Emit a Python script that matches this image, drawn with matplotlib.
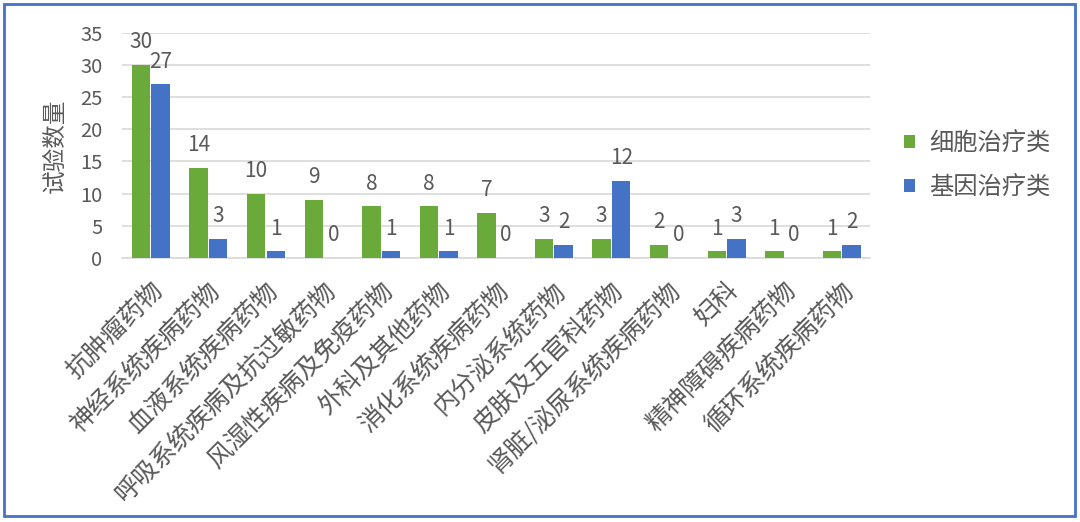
import numpy as np
import matplotlib
matplotlib.use("Agg")
import matplotlib.pyplot as plt
from matplotlib.patches import Rectangle

plt.rcParams['font.family'] = ['Noto Sans CJK SC', 'DejaVu Sans']

categories = ["抗肿瘤药物", "神经系统疾病药物", "血液系统疾病药物", "呼吸系统疾病及抗过敏药物",
              "风湿性疾病及免疫药物", "外科及其他药物", "消化系统疾病药物", "内分泌系统药物",
              "皮肤及五官科药物", "肾脏/泌尿系统疾病药物", "妇科", "精神障碍疾病药物", "循环系统疾病药物"]
cell_therapy = [30, 14, 10, 9, 8, 8, 7, 3, 3, 2, 1, 1, 1]
gene_therapy = [27, 3, 1, 0, 1, 1, 0, 2, 12, 0, 3, 0, 2]
series_names = ["细胞治疗类", "基因治疗类"]
yticks = [0, 5, 10, 15, 20, 25, 30, 35]

green = "#6AAA3A"
blue = "#4472C4"
text_color = "#595959"

fig = plt.figure(figsize=(10.8, 5.22), dpi=100)
ax = fig.add_axes([0.113, 0.506, 0.693, 0.431])

x = np.arange(len(categories))
width = 0.32
gap = 0.02
b1 = ax.bar(x - width / 2 - gap / 2, cell_therapy, width, color=green, label=series_names[0], zorder=3)
b2 = ax.bar(x + width / 2 + gap / 2, gene_therapy, width, color=blue, label=series_names[1], zorder=3)

for bars in (b1, b2):
    for rect in bars:
        h = rect.get_height()
        ax.annotate(f"{int(h)}", (rect.get_x() + rect.get_width() / 2, h),
                    xytext=(0, 8.5), textcoords="offset points", ha="center", va="bottom",
                    fontsize=15, color=text_color)

ax.set_xlim(-0.5, len(categories) - 0.5)
ax.set_ylim(0, 35)
ax.set_yticks(yticks)
ax.tick_params(axis="y", length=0, labelsize=14.5, labelcolor=text_color, pad=14)
ax.tick_params(axis="x", length=0, pad=14)
ax.set_xticks(x - 0.02)
ax.set_xticklabels(categories, rotation=45, ha="right", rotation_mode="anchor",
                   fontsize=18, color=text_color)
ax.grid(axis="y", color="#D9D9D9", linewidth=1.2, zorder=0)
for side in ("top", "right", "left"):
    ax.spines[side].set_visible(False)
ax.spines["bottom"].set_color("#D9D9D9")
ax.spines["bottom"].set_linewidth(1.2)
ax.set_ylabel("试验数量", fontsize=17, color=text_color, labelpad=10)

fig.legend(handles=[b1, b2], labels=series_names, loc="center left",
           bbox_to_anchor=(0.837, 0.683), frameon=False, fontsize=17.5,
           handlelength=0.45, handleheight=0.45, labelspacing=0.75, handletextpad=0.6,
           labelcolor=text_color, borderaxespad=0, borderpad=0)

fig.patches.append(Rectangle((0.004, 0.012), 0.991, 0.98, transform=fig.transFigure,
                             fill=False, edgecolor="#4472C4", linewidth=2))

plt.savefig("out.png", dpi=100)
